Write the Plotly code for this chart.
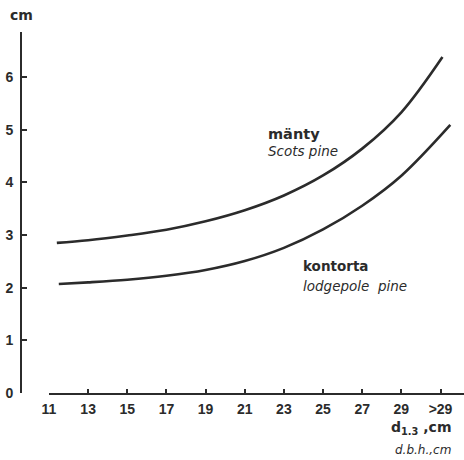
import plotly.graph_objects as go

# Data (diameter class d1.3 in cm; ">29" plotted at 31)
manty_d = [11.4, 13, 15, 17, 19, 21, 23, 25, 27, 29, 31.1]
manty_cm = [2.85, 2.90, 2.99, 3.10, 3.26, 3.47, 3.75, 4.13, 4.64, 5.33, 6.38]
kontorta_d = [11.5, 13, 15, 17, 19, 21, 23, 25, 27, 29, 31.5]
kontorta_cm = [2.07, 2.10, 2.15, 2.225, 2.335, 2.505, 2.755, 3.105, 3.555, 4.125, 5.09]

x_tickvals = [11, 13, 15, 17, 19, 21, 23, 25, 27, 29, 31]
x_ticktext = ["11", "13", "15", "17", "19", "21", "23", "25", "27", "29", ">29"]
y_tickvals = [0, 1, 2, 3, 4, 5, 6]

ink = "#2b2b2b"
W, H = 464, 460
ML, MT, MB, MR = 21, 32, 67, 0
plot_w = W - ML - MR
x_start_px = 49

fig = go.Figure()
for d, v in [(manty_d, manty_cm), (kontorta_d, kontorta_cm)]:
    fig.add_trace(go.Scatter(x=d, y=v, mode="lines",
                             line=dict(color=ink, width=2.6, shape="spline", smoothing=1.0),
                             hoverinfo="skip", showlegend=False))

xdom0 = (x_start_px - ML) / plot_w
x_range_max = 11 + (W - MR - x_start_px) / 19.575

tickfont = dict(family="Liberation Sans, Arial, sans-serif", size=14, color=ink, weight="bold")

fig.update_layout(
    width=W, height=H,
    margin=dict(l=ML, r=MR, t=MT, b=MB, pad=0),
    paper_bgcolor="white", plot_bgcolor="white",
    xaxis=dict(domain=[xdom0, 1], range=[11, x_range_max], tickvals=x_tickvals, ticktext=x_ticktext,
               showline=True, linecolor=ink, linewidth=1.6, ticks="inside", ticklen=4, tickwidth=1.6,
               tickcolor=ink, showgrid=False, zeroline=False, tickfont=tickfont, ticklabelstandoff=2),
    yaxis=dict(anchor="free", position=0, range=[0, 6.854], tickvals=y_tickvals,
               showline=True, linecolor=ink, linewidth=1.6, ticks="inside", ticklen=5, tickwidth=1.6,
               tickcolor=ink, showgrid=False, zeroline=False, tickfont=tickfont, ticklabelstandoff=4),
)

def ann(text, x, y, size=13, bold=True, italic=False, xanchor="left"):
    fig.add_annotation(text=text, xref="paper", yref="paper", x=(x - ML) / plot_w,
                       y=(H - MB - y) / (H - MT - MB),
                       showarrow=False, xanchor=xanchor, yanchor="middle",
                       font=dict(family="DejaVu Sans, sans-serif", size=size, color=ink,
                                 weight="bold" if bold else "normal",
                                 style="italic" if italic else "normal"))

ann("cm", 8, 15, size=14)
ann("mänty", 266, 134, size=14.5)
ann("Scots pine", 266, 151, size=13.5, bold=False, italic=True)
ann("kontorta", 301, 266, size=13.5)
ann("lodgepole  pine", 301, 286, size=13.5, bold=False, italic=True)
ann("d<sub>1.3</sub> ,cm", 453, 428, size=14, xanchor="right")
ann("d.b.h.,cm", 453, 450, size=12, bold=False, italic=True, xanchor="right")

fig.write_html("out.html")
